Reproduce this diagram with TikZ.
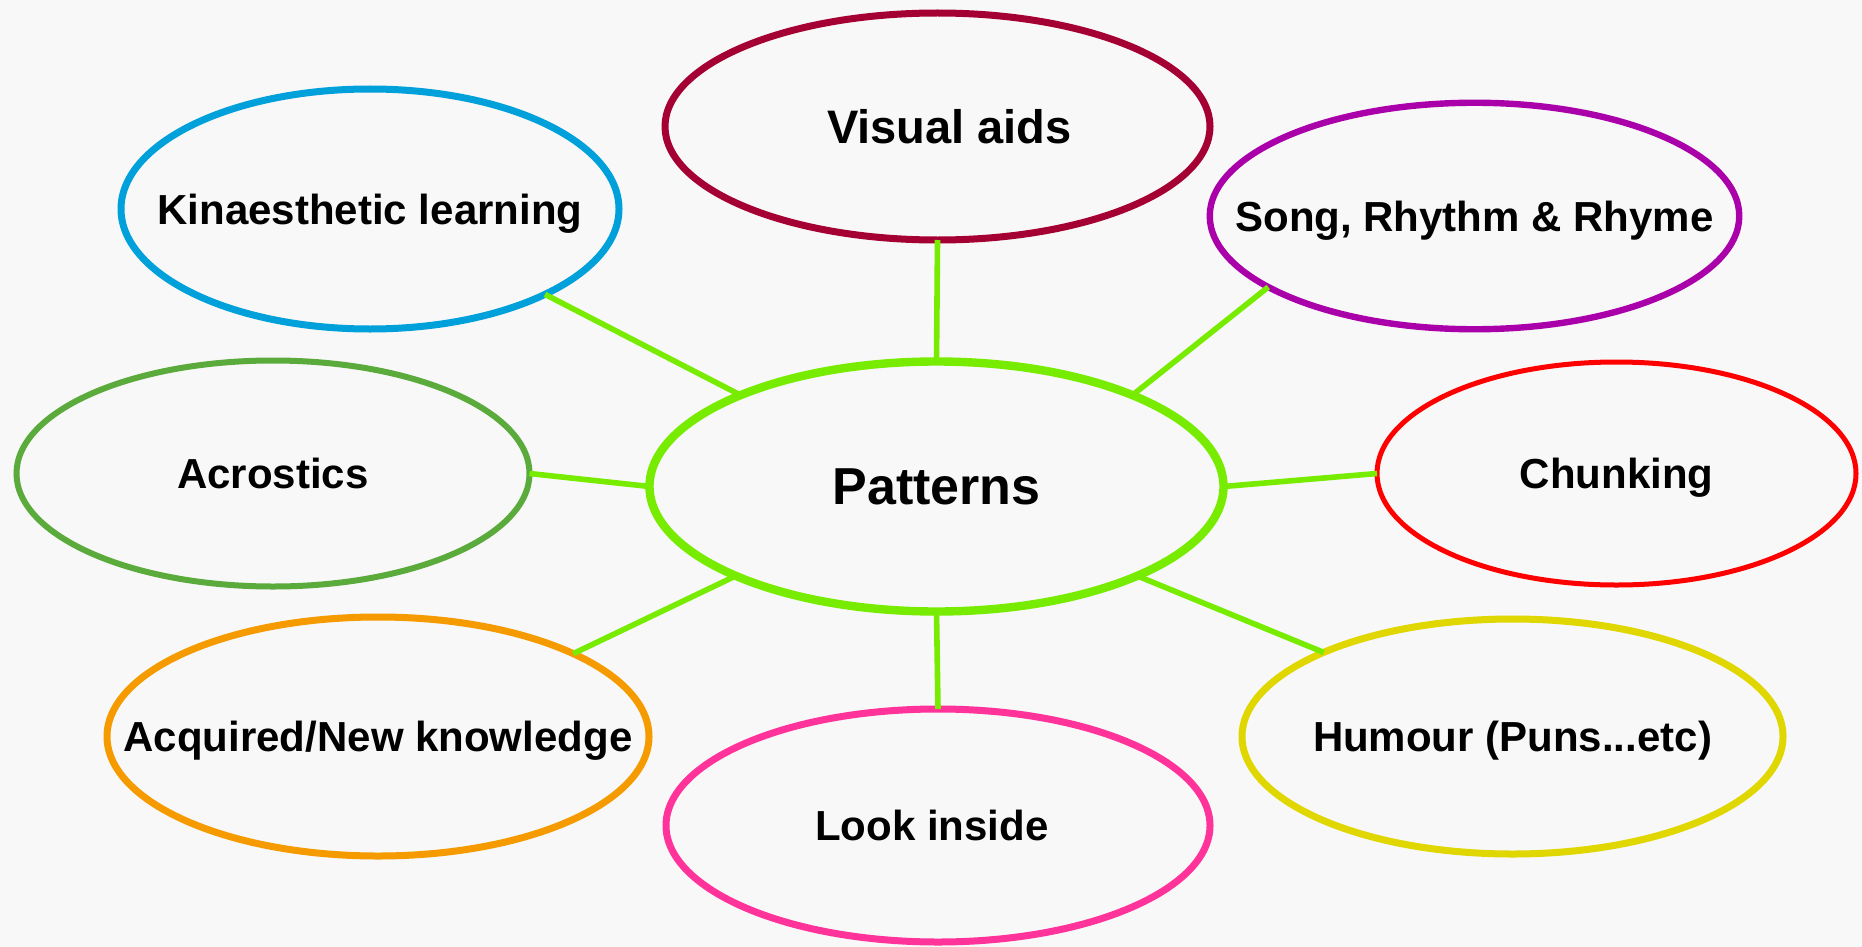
\documentclass[tikz,border=0pt]{standalone}
\usepackage{fontspec}
\setmainfont{Liberation Sans}
\usetikzlibrary{shapes.geometric}
\definecolor{bgc}{RGB}{248,248,248}
\definecolor{vac}{RGB}{165,0,52}
\definecolor{kinc}{RGB}{0,160,218}
\definecolor{songc}{RGB}{170,0,170}
\definecolor{acroc}{RGB}{90,170,60}
\definecolor{patc}{RGB}{120,236,0}
\definecolor{chc}{RGB}{255,0,0}
\definecolor{acqc}{RGB}{245,155,0}
\definecolor{lookc}{RGB}{255,51,153}
\definecolor{humc}{RGB}{224,214,0}
\newcommand\bublbl[1]{\makebox[0pt]{\raisebox{0pt}[\height][0pt]{#1}}}
\begin{document}
\begin{tikzpicture}[x=0.5pt,y=-0.5pt,
  bub/.style={ellipse, draw, inner sep=0pt, outer sep=0pt, text=black,
    font=\bfseries\fontsize{21}{25}\selectfont},
  link/.style={draw=patc, line width=2.8pt}]
\useasboundingbox[fill=bgc] (0,0) rectangle (1862,947);

\node[bub, draw=vac, line width=3.5pt, minimum width=272.5pt, minimum height=113.5pt,
  font=\bfseries\fontsize{23.5}{28}\selectfont] (va) at (937.5,126.5)
  {\bublbl{\hspace*{12pt}Visual aids}};
\node[bub, draw=kinc, line width=3.5pt, minimum width=249pt, minimum height=120pt]
  (kin) at (370,209) {\bublbl{Kinaesthetic learning}};
\node[bub, draw=songc, line width=3.2pt, minimum width=264.75pt, minimum height=113.25pt]
  (song) at (1474.5,216) {\bublbl{Song, Rhythm \& Rhyme}};
\node[bub, draw=acroc, line width=3pt, minimum width=256.5pt, minimum height=113pt]
  (acro) at (273,473.5) {\bublbl{Acrostics}};
\node[bub, draw=patc, line width=4.2pt, minimum width=287pt, minimum height=125pt,
  font=\bfseries\fontsize{26}{31}\selectfont] (pat) at (936.5,486.5)
  {\bublbl{Patterns}};
\node[bub, draw=chc, line width=2.5pt, minimum width=239.5pt, minimum height=111.5pt]
  (chunk) at (1616.5,473.5) {\bublbl{Chunking}};
\node[bub, draw=acqc, line width=3.5pt, minimum width=271pt, minimum height=119.5pt]
  (acq) at (378,736.5) {\bublbl{Acquired/New knowledge}};
\node[bub, draw=lookc, line width=3.5pt, minimum width=272pt, minimum height=116.5pt]
  (look) at (938,825.5) {\bublbl{Look inside\hspace*{6pt}}};
\node[bub, draw=humc, line width=3.5pt, minimum width=270.5pt, minimum height=117.5pt]
  (hum) at (1512.5,736.5) {\bublbl{Humour (Puns...etc)}};

\draw[link] (va.south) -- (pat.north);
\draw[link] (kin.334) -- (pat.155.4);
\draw[link] (song.199.4) -- (pat.25.2);
\draw[link] (acro.0) -- (pat.180);
\draw[link] (chunk.180) -- (pat.0);
\draw[link] (acq.23.6) -- (pat.204.1);
\draw[link] (look.north) -- (pat.south);
\draw[link] (hum.156.3) -- (pat.336.1);
\end{tikzpicture}
\end{document}
